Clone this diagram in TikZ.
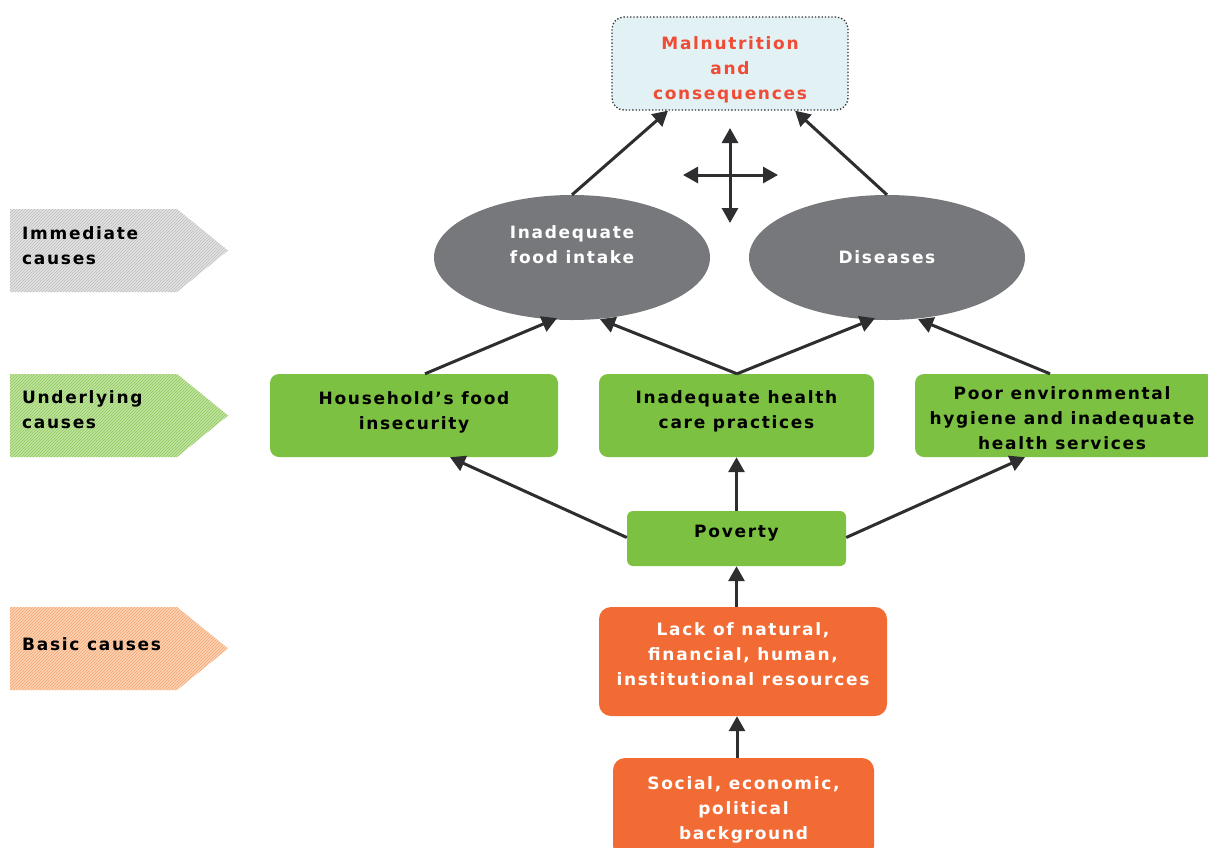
\documentclass[tikz,border=0pt]{standalone}
\usepackage{fontspec}
\usetikzlibrary{arrows.meta,shapes.geometric,patterns}
\newfontfamily\bfont{DejaVu Sans Bold}[LetterSpace=10]
\definecolor{dark}{HTML}{2E2E30}
\definecolor{topfill}{HTML}{E2F1F4}
\definecolor{redtxt}{HTML}{EF4B36}
\definecolor{ellgray}{HTML}{77787B}
\definecolor{grn}{HTML}{7DC142}
\definecolor{org}{HTML}{F26B35}
\definecolor{lgray}{HTML}{E3E3E3}
\definecolor{sgray}{HTML}{BDBDBD}
\definecolor{lgrn}{HTML}{C2E3A0}
\definecolor{sgrn}{HTML}{8CC95C}
\definecolor{lorg}{HTML}{FCD2B4}
\definecolor{sorg}{HTML}{F6A470}
\tikzset{
  txt/.style={font=\bfont\fontsize{17}{25}\selectfont, align=center, inner sep=0pt},
  topbox/.style={draw=dark, dotted, line width=1.3pt, fill=topfill, rounded corners=12pt, minimum width=236pt, minimum height=93pt},
  ellnode/.style={ellipse, fill=ellgray, minimum width=276pt, minimum height=125pt},
  grnbox/.style={fill=grn, rounded corners=9pt, minimum height=83pt},
  orgbox/.style={fill=org, rounded corners=12pt},
  arr/.style={draw=dark, line width=3pt, -{Triangle[length=15pt,width=16pt]}},
  dbl/.style={draw=dark, line width=3pt, {Triangle[length=15pt,width=16pt]}-{Triangle[length=15pt,width=16pt]}},
  lbltxt/.style={font=\bfont\fontsize{17}{25}\selectfont, align=left, anchor=west, text=black, inner sep=0pt}
}
\begin{document}
\begin{tikzpicture}[x=1pt,y=-1pt]
\clip (0,0) rectangle (1208,847);
\fill[white] (0,0) rectangle (1208,847);

% side labels
\fill[lgray, postaction={pattern=north east lines, pattern color=sgray}] (10,209)--(177,209)--(228,250.5)--(177,292)--(10,292)--cycle;
\fill[lgrn, postaction={pattern=north east lines, pattern color=sgrn}] (10,374)--(177,374)--(228,415.5)--(177,457)--(10,457)--cycle;
\fill[lorg, postaction={pattern=north east lines, pattern color=sorg}] (10,607)--(177,607)--(228,648.5)--(177,690)--(10,690)--cycle;
\node[lbltxt] (limm) at (22,246) {Immediate\\causes};
\node[lbltxt] (lund) at (22,410) {Underlying\\causes};
\node[lbltxt] (lbas) at (22,644.5) {Basic causes};

% shapes
\node[topbox] (top) at (730,63.5) {};
\node[ellnode] (lefte) at (572,257.5) {};
\node[ellnode] (righte) at (887,257.5) {};
\node[grnbox, minimum width=288pt] (leftg) at (414,415.5) {};
\node[grnbox, minimum width=275pt] (midg) at (736.5,415.5) {};
\node[grnbox, minimum width=300pt] (rightg) at (1065,415.5) {};
\node[grnbox, minimum width=219pt, minimum height=55pt, rounded corners=6pt] (pov) at (736.5,538.5) {};
\node[orgbox, minimum width=288pt, minimum height=109pt] (res) at (743,661.5) {};
\node[orgbox, minimum width=261pt, minimum height=100pt] (soc) at (743.5,808) {};

% texts
\node[txt, text=redtxt] (topt) at (730,70) {Malnutrition\\and\\consequences};
\node[txt, text=white] (leftet) at (572,245) {Inadequate\\food intake};
\node[txt, text=white] (rightet) at (887,257.5) {Diseases};
\node[txt] (leftgt) at (414,412) {Household’s food\\insecurity};
\node[txt] (midgt) at (736.5,411) {Inadequate health\\care practices};
\node[txt] (rightgt) at (1062,418) {Poor environmental\\hygiene and inadequate\\health services};
\node[txt] (povt) at (736.5,533.5) {Poverty};
\node[txt, text=white] (rest) at (743,654) {Lack of natural,\\financial, human,\\institutional resources};
\node[txt, text=white] (soct) at (743.5,810) {Social, economic,\\political\\background};

% connectors
\draw[arr] (lefte.north) -- ([xshift=-62pt]top.south);
\draw[arr] (righte.north) -- ([xshift=65pt]top.south);
\coordinate (cc) at (730,175);
\draw[dbl] ([xshift=-47pt]cc) -- ([xshift=48pt]cc);
\draw[dbl] ([yshift=-48pt]cc) -- ([yshift=47pt]cc);

\draw[arr] ([xshift=11pt]leftg.north) -- ([xshift=-15pt,yshift=2pt]lefte.south);
\draw[arr] ([xshift=0.5pt]midg.north) -- ([xshift=28pt,yshift=1pt]lefte.south);
\draw[arr] ([xshift=0.5pt]midg.north) -- ([xshift=-12pt,yshift=2pt]righte.south);
\draw[arr] ([xshift=-15pt]rightg.north) -- ([xshift=31pt,yshift=1pt]righte.south);

\draw[arr] ([yshift=1pt]pov.west) -- ([xshift=36pt]leftg.south);
\draw[arr] (pov.north) -- (midg.south);
\draw[arr] ([yshift=1pt]pov.east) -- ([xshift=-40pt]rightg.south);
\draw[arr] ([xshift=-6.5pt]res.north) -- (pov.south);
\draw[arr] ([xshift=-6.5pt]soc.north) -- ([xshift=-6pt]res.south);
\end{tikzpicture}
\end{document}
